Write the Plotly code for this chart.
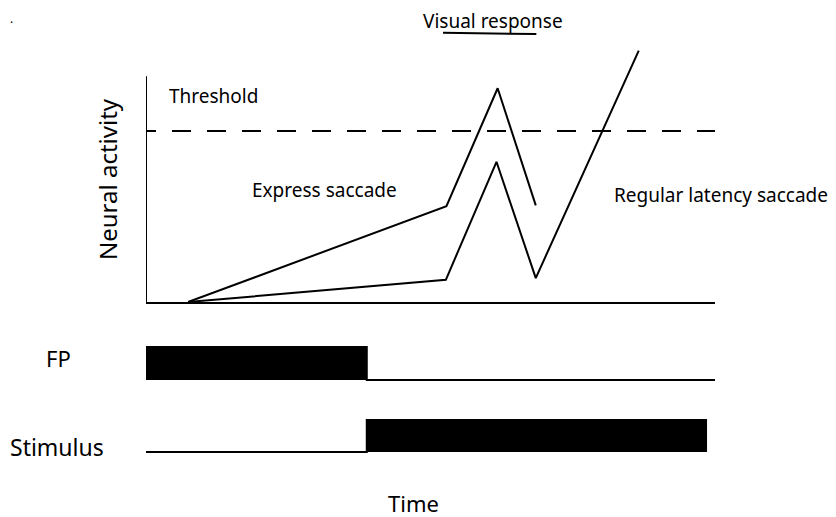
import plotly.graph_objects as go

# ---- data (schematic time units 0..100, activity: threshold = 1) ----
time_axis_end = 100
threshold_level = 1.0
activity_axis_top = 1.32

express_time = [7.4, 52.8, 61.8, 68.5]
express_activity = [0.0, 0.56, 1.25, 0.565]

regular_time = [7.4, 52.7, 61.6, 68.5, 86.6]
regular_activity = [0.0, 0.13, 0.82, 0.14, 1.47]

visual_response_window = [52.2, 68.6]
visual_response_level = 1.575

fp_time = [0, 38.8, 100]
fp_level = [1, 0, 0]

stim_time = [0, 38.8, 98.6]
stim_level = [0, 1, 1]

FONT = "Noto Sans"
W, H = 836, 517
OFF = 8  # page body margin


def fx(px):
    return (px - OFF) / W


def fy(px):
    return (H - (px - OFF)) / H


x_dom = [fx(146), fx(715)]
px_per_unit_y = 171.0
y_top_px = 14
y_range = [0, (302 - y_top_px) / px_per_unit_y]

fig = go.Figure()

line = dict(color="black", width=2)

# neural activity panel
fig.add_trace(go.Scatter(x=[0, 0], y=[0, activity_axis_top], mode="lines", line=line,
                         xaxis="x", yaxis="y", hoverinfo="skip"))
fig.add_trace(go.Scatter(x=[0, time_axis_end], y=[threshold_level, threshold_level], mode="lines",
                         line=dict(color="black", width=2,
                                   dash="10px,16px" + ",19px,16px" * 17),
                         xaxis="x", yaxis="y", hoverinfo="skip"))
fig.add_trace(go.Scatter(x=express_time, y=express_activity, mode="lines", line=line,
                         xaxis="x", yaxis="y"))
fig.add_trace(go.Scatter(x=regular_time, y=regular_activity, mode="lines", line=line,
                         xaxis="x", yaxis="y"))
fig.add_trace(go.Scatter(x=visual_response_window,
                         y=[visual_response_level, visual_response_level - 0.008],
                         mode="lines", line=line, xaxis="x", yaxis="y", hoverinfo="skip"))

# FP panel
fig.add_trace(go.Scatter(x=fp_time, y=fp_level, mode="lines",
                         line=dict(color="black", width=2, shape="hv"),
                         fill="tozeroy", fillcolor="black", xaxis="x", yaxis="y2"))
# Stimulus panel
fig.add_trace(go.Scatter(x=stim_time, y=stim_level, mode="lines",
                         line=dict(color="black", width=2, shape="hv"),
                         fill="tozeroy", fillcolor="black", xaxis="x", yaxis="y3"))

hidden = dict(showgrid=False, zeroline=False, showticklabels=False, ticks="",
              showline=False, fixedrange=True)

fig.update_layout(
    width=W, height=H,
    margin=dict(l=0, r=0, t=0, b=0),
    paper_bgcolor="white", plot_bgcolor="rgba(0,0,0,0)",
    showlegend=False,
    xaxis=dict(domain=x_dom, range=[0, time_axis_end], anchor="y",
               showline=True, linecolor="black", linewidth=2, mirror=False,
               showgrid=False, zeroline=False, showticklabels=False, ticks=""),
    yaxis=dict(domain=[fy(302), fy(y_top_px)], range=y_range, anchor="x", **hidden),
    yaxis2=dict(domain=[fy(380 + 16.5), fy(380 - 49.5)], range=[-0.5, 1.5], anchor="x", **hidden),
    yaxis3=dict(domain=[fy(452 + 16), fy(452 - 48)], range=[-0.5, 1.5], anchor="x", **hidden),
    font=dict(family=FONT, color="black"),
)


def ann(text, px, py, size, angle=0):
    fig.add_annotation(text=text, x=fx(px), y=fy(py), xref="paper", yref="paper", showarrow=False,
                       font=dict(family=FONT, size=size, color="black"),
                       xanchor="center", yanchor="middle", textangle=angle)


ann("Threshold", 213, 96, 19)
ann("Express saccade", 324, 190, 19)
ann("Regular latency saccade", 721, 195, 19)
ann("Visual response", 493, 21, 19)
ann("Neural activity", 107, 179, 24, angle=-90)
ann("FP", 58, 358, 22)
ann("Stimulus", 57, 447, 23)
ann("Time", 413, 503, 22)
fig.add_annotation(text=".", x=0, y=1, xref="paper", yref="paper", showarrow=False,
                   font=dict(family=FONT, size=12, color="black"), xanchor="left", yanchor="top")

fig.write_html("out.html")
